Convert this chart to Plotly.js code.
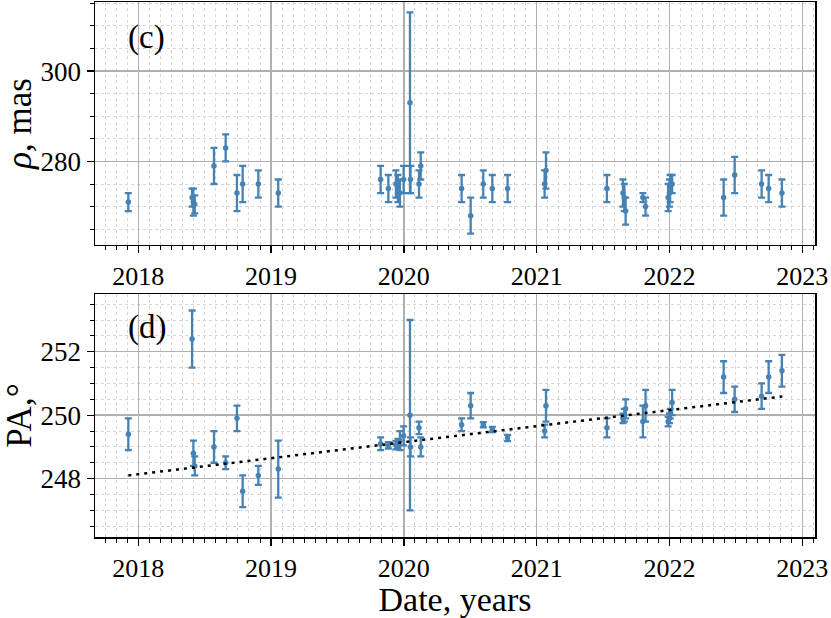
<!DOCTYPE html>
<html>
<head>
<meta charset="utf-8">
<script src="https://cdn.plot.ly/plotly-3.0.1.min.js"></script>
<style>html,body{margin:0;padding:0;background:#fff;}#chart{width:831px;height:618px;}</style>
</head>
<body>
<div id="chart"></div>
<script>
const dates = [2017.925, 2018.405, 2018.415, 2018.425, 2018.570, 2018.658, 2018.743, 2018.786, 2018.904, 2019.054,
  2019.825, 2019.883, 2019.940, 2019.955, 2019.970, 2019.998, 2020.046, 2020.050, 2020.114, 2020.127,
  2020.435, 2020.503, 2020.598, 2020.666, 2020.781, 2021.060, 2021.070, 2021.529, 2021.650, 2021.660,
  2021.670, 2021.800, 2021.820, 2021.990, 2022.000, 2022.005, 2022.020, 2022.408, 2022.491, 2022.694,
  2022.747, 2022.847];
const rho = [271, 272, 271, 270.5, 279, 283, 273, 275, 275, 273,
  276, 274, 275, 274, 273, 276, 293, 276, 275, 279,
  274, 268, 275, 274, 274, 275, 278, 274, 273, 272,
  269, 272, 270, 272, 273, 274, 275, 272, 277, 275,
  274, 273];
const rhoErr = [2, 2, 3, 2, 4, 3, 4, 4, 3, 3,
  3, 3, 3, 3, 3, 3, 20, 3, 3, 3,
  3, 4, 3, 3, 3, 3, 4, 3, 3, 3,
  3, 1, 2, 3, 3, 3, 2, 4, 4, 3,
  3, 3];
const pa = [249.4, 252.4, 248.8, 248.4, 249.0, 248.5, 249.9, 247.6, 248.1, 248.3,
  249.1, 249.05, 249.05, 249.1, 249.2, 249.35, 250.0, 249.0, 249.6, 249.0,
  249.7, 250.3, 249.7, 249.55, 249.28, 249.5, 250.3, 249.6, 249.9, 250.0,
  250.2, 249.8, 250.3, 249.8, 249.9, 250.05, 250.4, 251.2, 250.5, 250.6,
  251.2, 251.4];
const paErr = [0.5, 0.9, 0.4, 0.3, 0.5, 0.2, 0.4, 0.5, 0.3, 0.9,
  0.2, 0.1, 0.13, 0.15, 0.3, 0.3, 3.0, 0.3, 0.2, 0.3,
  0.2, 0.4, 0.08, 0.08, 0.1, 0.2, 0.5, 0.3, 0.15, 0.2,
  0.3, 0.5, 0.5, 0.15, 0.15, 0.15, 0.4, 0.5, 0.4, 0.4,
  0.5, 0.5];
const trendYears = [2017.925, 2022.85];
const trendPA = [248.1, 250.59];
const yearTicks = [2018, 2019, 2020, 2021, 2022, 2023];
const rhoTicks = [280, 300];
const paTicks = [248, 250, 252];

const blue = '#4682b4';
const FONT = "'Liberation Serif', 'Times New Roman', serif";

const errStyle = {type: 'data', visible: true, color: blue, thickness: 2.3, width: 3.5};

const traces = [
  {x: dates, y: rho, xaxis: 'x', yaxis: 'y', type: 'scatter', mode: 'markers',
   marker: {color: blue, size: 5.5},
   error_y: Object.assign({array: rhoErr}, errStyle), showlegend: false},
  {x: dates, y: pa, xaxis: 'x2', yaxis: 'y2', type: 'scatter', mode: 'markers',
   marker: {color: blue, size: 5.5},
   error_y: Object.assign({array: paErr}, errStyle), showlegend: false},
  {x: trendYears, y: trendPA, xaxis: 'x2', yaxis: 'y2', type: 'scatter', mode: 'lines',
   line: {color: '#000', width: 2.5, dash: '3px,5px'}, showlegend: false}
];

function xAxis() {
  return {
    range: [2017.674, 2023.096], tickvals: yearTicks, ticktext: yearTicks.map(String),
    ticks: 'outside', ticklen: 7, tickwidth: 1.3, tickcolor: '#000',
    showline: true, linecolor: '#000', linewidth: 1.5, mirror: true,
    showgrid: true, gridcolor: '#b0b0b0', gridwidth: 1.5, zeroline: false,
    tickfont: {family: FONT, size: 26, color: '#000'},
    minor: {dtick: 1/12, tick0: 2018, ticks: 'outside', ticklen: 4, tickwidth: 1, tickcolor: '#000',
            showgrid: true, gridcolor: '#d6d6d6', gridwidth: 1, griddash: 'dot'}
  };
}
function yAxis(range, ticks, minorD, title) {
  return {
    range: range, tickvals: ticks, ticktext: ticks.map(String),
    ticks: 'outside', ticklen: 7, tickwidth: 1.3, tickcolor: '#000',
    showline: true, linecolor: '#000', linewidth: 1.5, mirror: true,
    showgrid: true, gridcolor: '#b0b0b0', gridwidth: 1.5, zeroline: false,
    tickfont: {family: FONT, size: 27, color: '#000'},
    title: {text: title, font: {family: FONT, size: 35, color: '#000'}, standoff: 12},
    minor: {dtick: minorD, ticks: 'outside', ticklen: 4, tickwidth: 1, tickcolor: '#000',
            showgrid: true, gridcolor: '#d6d6d6', gridwidth: 1, griddash: 'dot'}
  };
}

const layout = {
  width: 831, height: 618,
  margin: {l: 95, r: 16, t: 2, b: 81},
  paper_bgcolor: '#fff', plot_bgcolor: '#fff',
  showlegend: false,
  xaxis: Object.assign(xAxis(), {anchor: 'y', domain: [0, 1]}),
  yaxis: Object.assign(yAxis([261.5, 315.3], rhoTicks, 5, '<i>ρ</i>, mas'), {anchor: 'x', domain: [0.5458, 1]}),
  xaxis2: Object.assign(xAxis(), {anchor: 'y2', domain: [0, 1],
    title: {text: 'Date, years', font: {family: FONT, size: 34, color: '#000'}, standoff: 7}}),
  yaxis2: Object.assign(yAxis([246.16, 253.82], paTicks, 0.5, 'PA,°'), {anchor: 'x2', domain: [0, 0.4542]}),
  annotations: [
    {text: '(c)', xref: 'x domain', yref: 'y domain', x: 0.043, y: 0.852, xanchor: 'left', yanchor: 'middle',
     showarrow: false, font: {family: FONT, size: 33, color: '#000'}},
    {text: '(d)', xref: 'x2 domain', yref: 'y2 domain', x: 0.043, y: 0.864, xanchor: 'left', yanchor: 'middle',
     showarrow: false, font: {family: FONT, size: 33, color: '#000'}}
  ]
};

Plotly.newPlot('chart', traces, layout, {staticPlot: true, displayModeBar: false});
</script>
</body>
</html>
